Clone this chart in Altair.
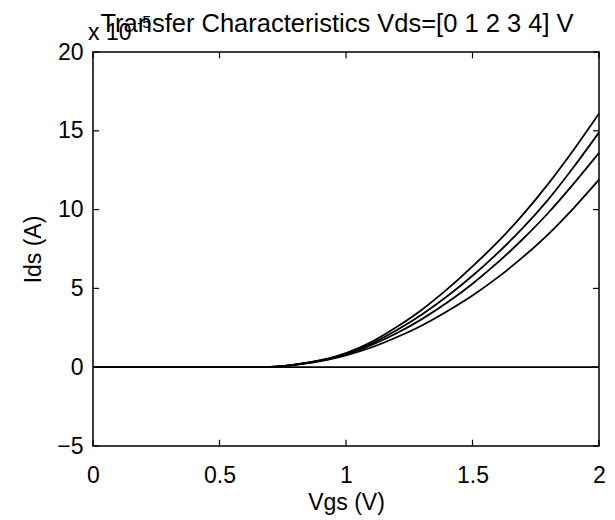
import altair as alt
import pandas as pd

vgs = [0.0, 0.5, 0.6, 0.7, 0.8, 0.9, 1.0, 1.1, 1.2, 1.3, 1.4, 1.5, 1.6, 1.7, 1.8, 1.9, 2.0]
ids_vds0 = [0, 0, 0, 0, 0, 0, 0, 0, 0, 0, 0, 0, 0, 0, 0, 0, 0]
ids_vds1 = [0, 0, 0.0, 0.02, 0.15, 0.38, 0.75, 1.25, 1.9, 2.65, 3.55, 4.55, 5.7, 7.0, 8.45, 10.1, 11.9]
ids_vds2 = [0, 0, 0.0, 0.02, 0.16, 0.41, 0.8, 1.4, 2.15, 3.05, 4.1, 5.3, 6.65, 8.15, 9.8, 11.65, 13.6]
ids_vds3 = [0, 0, 0.0, 0.02, 0.17, 0.43, 0.85, 1.5, 2.35, 3.35, 4.5, 5.8, 7.25, 8.85, 10.65, 12.7, 14.9]
ids_vds4 = [0, 0, 0.0, 0.02, 0.18, 0.45, 0.9, 1.6, 2.55, 3.65, 4.95, 6.4, 7.95, 9.7, 11.65, 13.8, 16.1]
vds_labels = ["0", "1", "2", "3", "4"]

x_ticks = [0, 0.5, 1, 1.5, 2]
y_ticks = [-5, 0, 5, 10, 15, 20]
title_text = ["Transfer Characteristics Vds=[0 1 2 3 4] V"]

rows = []
for lab, ser in zip(vds_labels, [ids_vds0, ids_vds1, ids_vds2, ids_vds3, ids_vds4]):
    for v, i in zip(vgs, ser):
        rows.append({"Vgs": v, "Ids": i, "Vds": lab})
df = pd.DataFrame(rows)

FONT = "Liberation Sans"
xs = alt.Scale(domain=[0, 2], nice=False)
ys = alt.Scale(domain=[-5, 20], nice=False)

lines = alt.Chart(df).mark_line(color="black", strokeWidth=1.8, interpolate="monotone").encode(
    x=alt.X("Vgs:Q", scale=xs,
            axis=alt.Axis(title="Vgs (V)", values=x_ticks, grid=False, domain=False, ticks=False,
                          labelFontSize=23, titleFontSize=23, labelFont=FONT, titleFont=FONT,
                          labelColor="black", titleColor="black", titleFontWeight="normal",
                          labelPadding=18, titlePadding=4, labelFlush=False,
                          format="~g")),
    y=alt.Y("Ids:Q", scale=ys,
            axis=alt.Axis(title="Ids (A)", values=y_ticks, grid=False, domain=False, ticks=False,
                          labelFontSize=23, titleFontSize=23, labelFont=FONT, titleFont=FONT,
                          labelColor="black", titleColor="black", titleFontWeight="normal",
                          labelPadding=10, titlePadding=11, labelFlush=False)),
    detail="Vds:N",
)

# inward ticks (MATLAB style) on all four sides
xt = pd.DataFrame({"v": x_ticks})
yt = pd.DataFrame({"v": y_ticks})
tick_bottom = alt.Chart(xt).mark_rule(color="black", strokeWidth=1.2).encode(
    x=alt.X("v:Q", scale=xs), y=alt.datum(-5), y2=alt.datum(-4.6))
tick_top = alt.Chart(xt).mark_rule(color="black", strokeWidth=1.2).encode(
    x=alt.X("v:Q", scale=xs), y=alt.datum(20), y2=alt.datum(19.6))
tick_left = alt.Chart(yt).mark_rule(color="black", strokeWidth=1.2).encode(
    y=alt.Y("v:Q", scale=ys), x=alt.datum(0), x2=alt.datum(0.024))
tick_right = alt.Chart(yt).mark_rule(color="black", strokeWidth=1.2).encode(
    y=alt.Y("v:Q", scale=ys), x=alt.datum(2), x2=alt.datum(1.976))

exp_base = alt.Chart(pd.DataFrame({"t": ["x 10"]})).mark_text(
    align="left", baseline="alphabetic", fontSize=23, font=FONT, color="black", dx=-5, dy=-12
).encode(x=alt.datum(0), y=alt.datum(20), text="t:N")
exp_pow = alt.Chart(pd.DataFrame({"t": ["-5"]})).mark_text(
    align="left", baseline="alphabetic", fontSize=16, font=FONT, color="black", dx=44, dy=-24
).encode(x=alt.datum(0), y=alt.datum(20), text="t:N")

title = alt.Chart(pd.DataFrame({"t": title_text})).mark_text(
    align="center", baseline="alphabetic", fontSize=25.5, font=FONT, color="black", dx=-9, dy=-20
).encode(x=alt.datum(1), y=alt.datum(20), text="t:N")

chart = alt.layer(lines, tick_bottom, tick_top, tick_left, tick_right, exp_base, exp_pow, title).properties(
    width=506, height=394,
    background="white",
    autosize=alt.AutoSizeParams(type="none"),
    padding={"left": 85, "top": 44, "right": 8, "bottom": 70},
).configure_view(stroke="black", strokeWidth=1.5)

chart.save("out.html", embed_options={"renderer": "svg", "actions": False})
